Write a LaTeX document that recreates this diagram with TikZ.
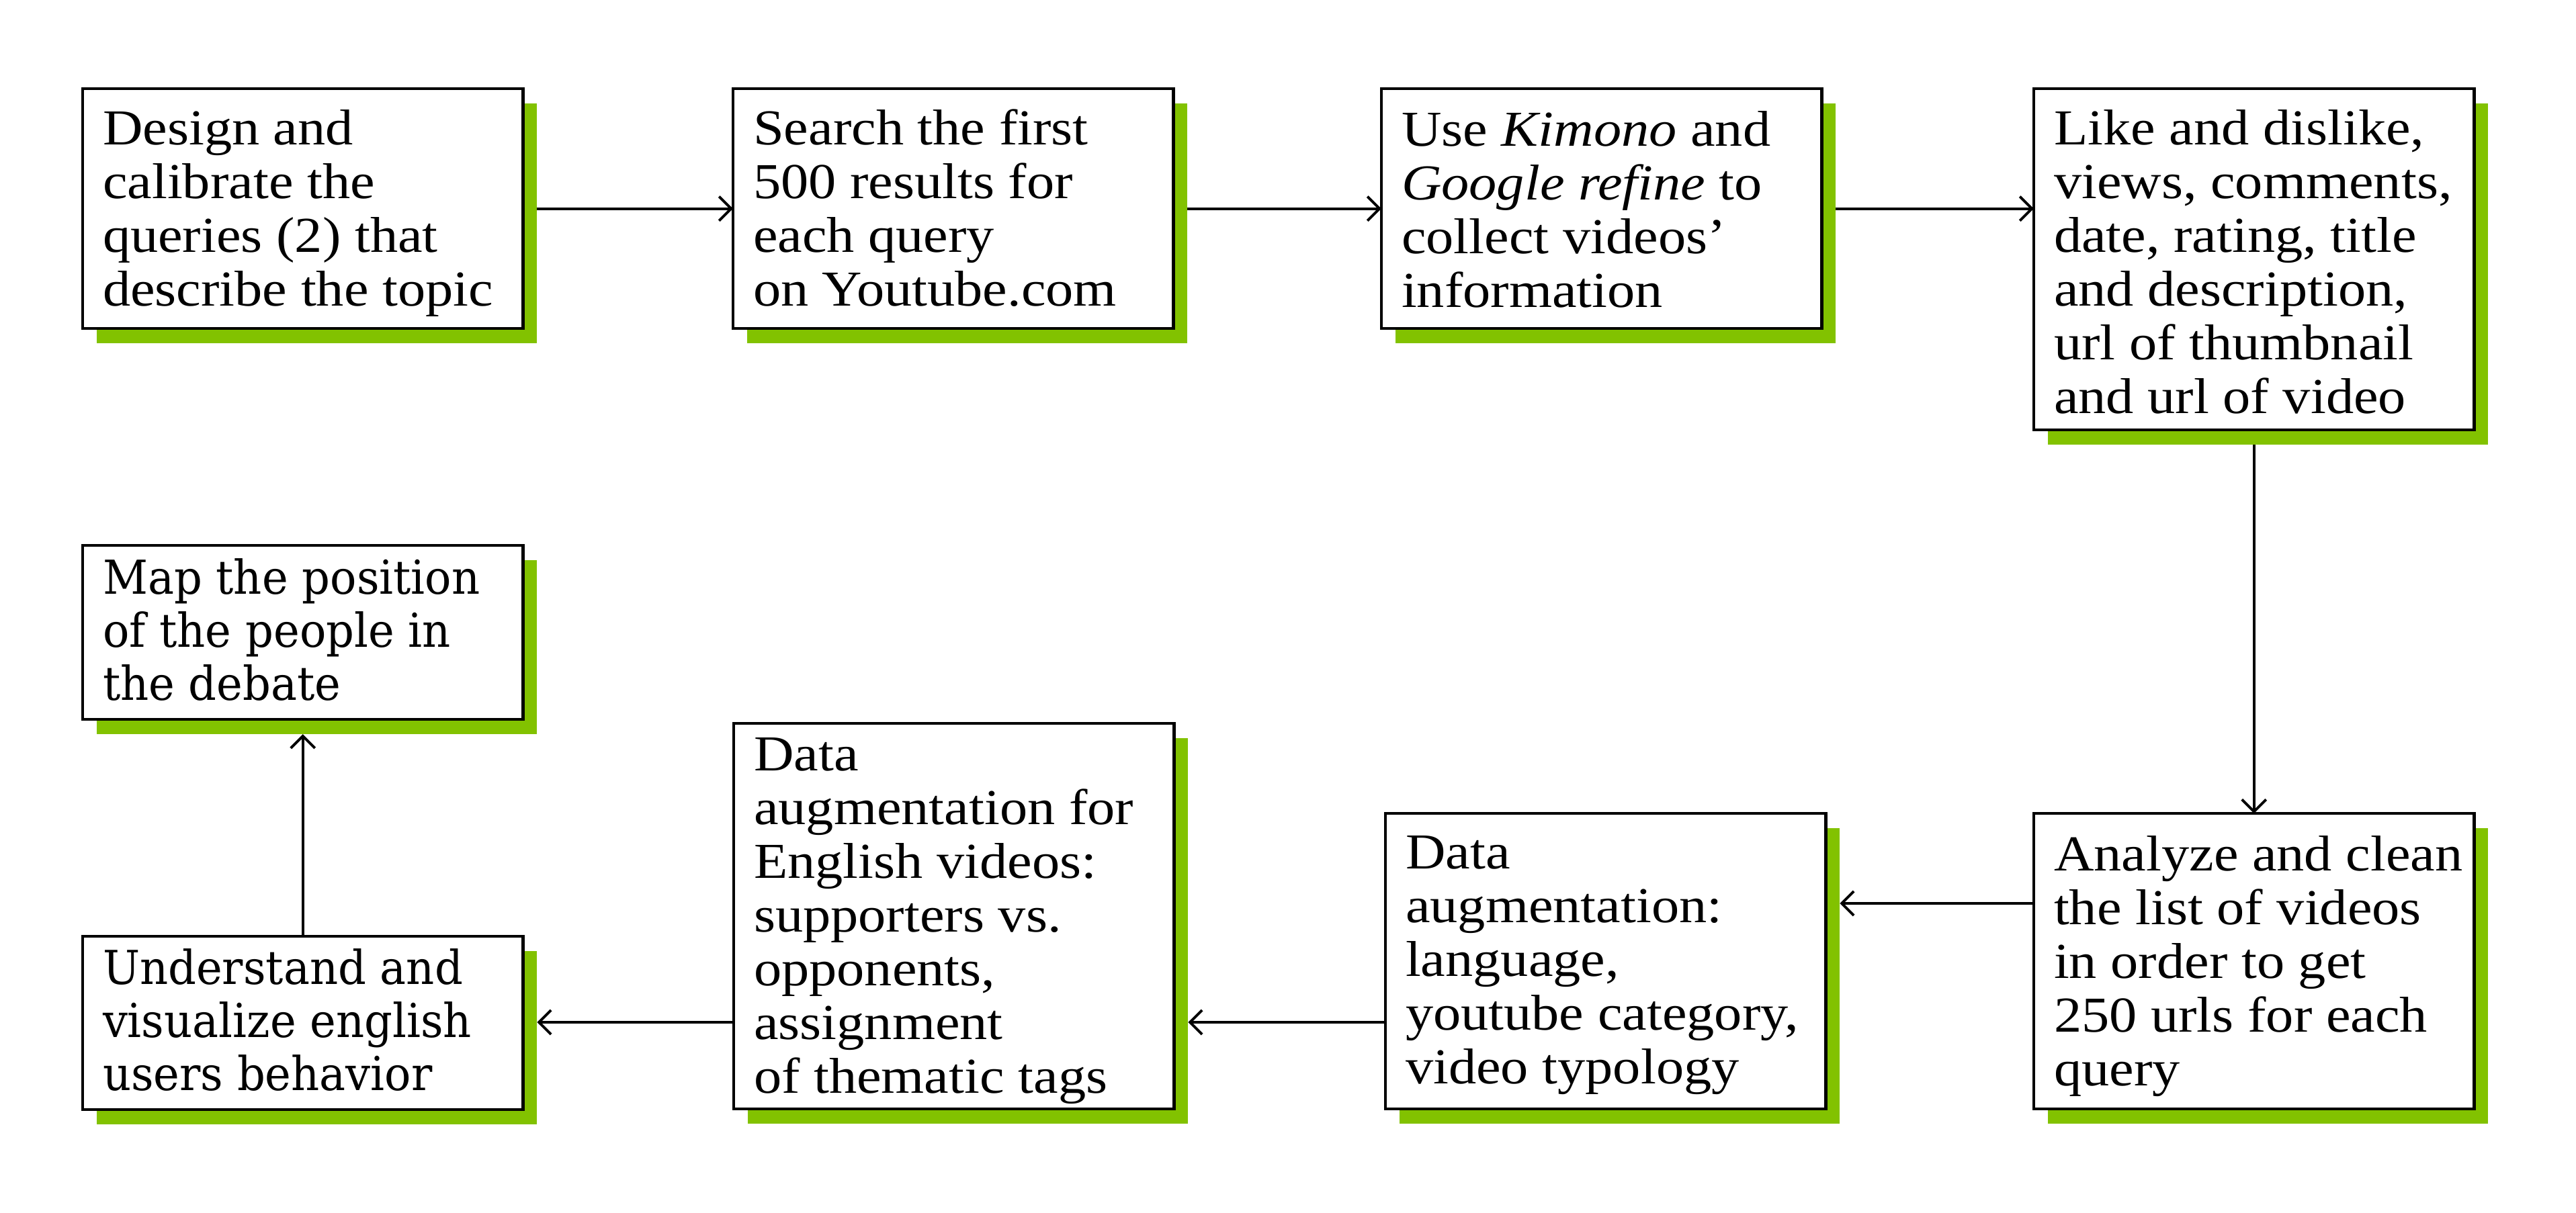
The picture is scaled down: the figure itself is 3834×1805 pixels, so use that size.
\documentclass[tikz,border=0pt]{standalone}
\usepackage{fontspec}
\setmainfont{Liberation Serif}[FakeStretch=1.1]
\newfontfamily\mapfont{DejaVu Serif}[FakeStretch=0.94]
\usetikzlibrary{arrows.meta,shadows}
\definecolor{leafgreen}{RGB}{130,194,0}
\newcommand{\stepbody}[3][0.83cm]{\parbox[c][#2][t]{6.55cm}{\leftskip=0.3cm\rightskip=-3cm plus 1fil\parindent=0pt\rule{0pt}{#1}#3}}

\begin{document}
\begin{tikzpicture}[x=0.01cm,y=-0.01cm,
    stepbox/.style={draw,line width=1.2pt,fill=white,inner sep=0pt,outer sep=0pt,anchor=north west,
        font=\fontsize{21.3pt}{22.76pt}\selectfont,
        drop shadow={shadow xshift=0.21cm,shadow yshift=-0.22cm,fill=leafgreen,opacity=1}},
    mapbox/.style={stepbox,font=\mapfont\fontsize{19.8pt}{22.5pt}\selectfont},
    flow/.style={-{Straight Barb[length=0.18cm,width=0.36cm]},line width=1.1pt}]
			\useasboundingbox (0,0) rectangle (3834,1805);
			\node[stepbox] (b1) at (123,132) {\stepbody{3.57cm}{Design and\\calibrate the\\queries (2) that\\describe the topic}};
			\node[stepbox] (b2) at (1091,132) {\stepbody{3.57cm}{Search the first\\500 results for\\each query\\on Youtube.com}};
			\node[stepbox] (b3) at (2056,132) {\stepbody[0.85cm]{3.57cm}{Use \textit{Kimono} and\\\textit{Google refine} to\\collect videos’\\information}};
			\node[stepbox] (b4) at (3027,132) {\stepbody{5.08cm}{Like and dislike,\\views, comments,\\date, rating, title\\and description,\\url of thumbnail\\and url of video}};
			\node[stepbox] (b5) at (3027,1211) {\stepbody[0.85cm]{4.40cm}{Analyze and clean\\the list of videos\\in order to get\\250 urls for each\\query}};
			\node[stepbox] (b6) at (2062,1211) {\stepbody[0.82cm]{4.40cm}{Data\\augmentation:\\language,\\youtube category,\\video typology}};
			\node[stepbox] (b7) at (1092,1077) {\stepbody[0.70cm]{5.74cm}{Data\\augmentation for\\English videos:\\supporters vs.\\opponents,\\assignment\\of thematic tags}};
			\node[mapbox] (b8) at (123,1394) {\stepbody[0.71cm]{2.58cm}{Understand and\\visualize english\\users behavior}};
			\node[mapbox] (b9) at (123,812) {\stepbody[0.72cm]{2.59cm}{Map the position\\of the people in\\the debate}};
			\coordinate (upper) at (0,1345);
			\coordinate (lower) at (0,1522);
			\draw[flow] ([xshift=0.21cm]b1.east) -- (b2.west);
			\draw[flow] ([xshift=0.21cm]b2.east) -- (b3.west);
			\draw[flow] ([xshift=0.21cm]b3.east) -- (b3.east -| b4.west);
			\draw[flow] ([yshift=-0.22cm]b4.south) -- (b5.north);
			\draw[flow] (b5.west |- upper) -- ([xshift=0.21cm]b6.east |- upper);
			\draw[flow] (b6.west |- lower) -- ([xshift=0.21cm]b7.east |- lower);
			\draw[flow] (b7.west |- lower) -- ([xshift=0.21cm]b8.east |- lower);
			\draw[flow] (b8.north) -- ([yshift=-0.22cm]b9.south);
\end{tikzpicture}
\end{document}
